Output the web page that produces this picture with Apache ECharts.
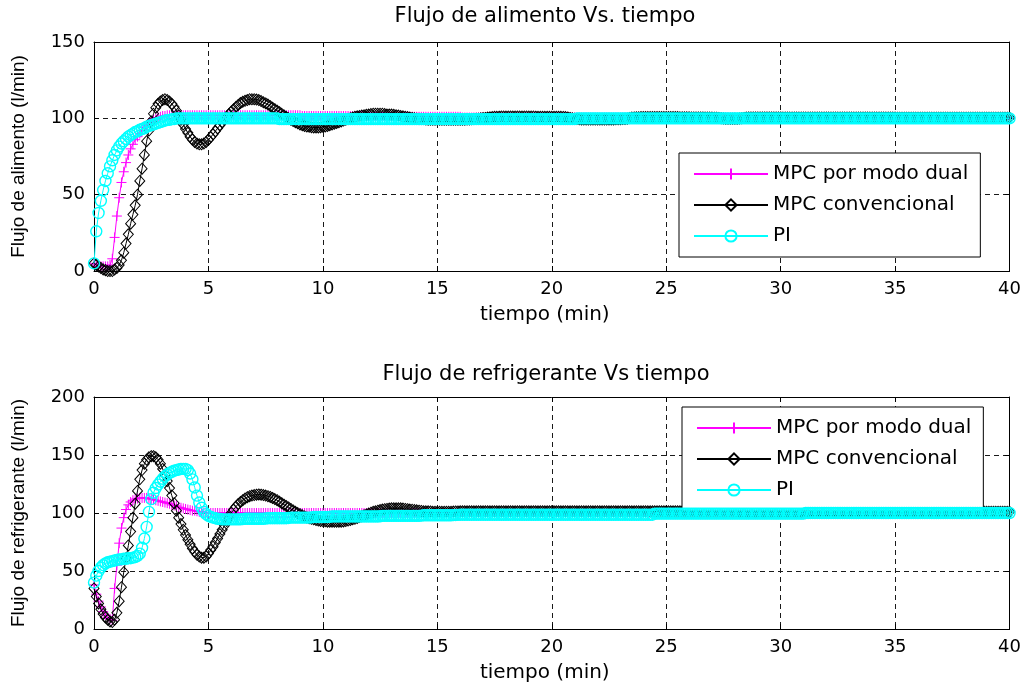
<!DOCTYPE html>
<html>
<head>
<meta charset="utf-8">
<script src="https://cdn.jsdelivr.net/npm/echarts@6/dist/echarts.min.js"></script>
<style>html,body{margin:0;padding:0;background:#fff;}#c{width:1024px;height:685px;}</style>
</head>
<body>
<div id="c"></div>
<script>
// sample period (min); first value is t=0, then one row of 10 samples per minute
const dt = 0.1;
const xTicks = [0, 5, 10, 15, 20, 25, 30, 35, 40];
const seriesNames = ['MPC por modo dual', 'MPC convencional', 'PI'];

// ---- Flujo de alimento (l/min) ----
const alimDual = [5,
4,3,3,3,3,3,4,8,22,36,
48,58,65,71,76,80,83,86,88,90,
92,94,95.5,97,98,99,100,100.5,101,101.5,
101.5,102,102,102,102,102,102,102,102,102,
102,102,102,102,102,102,102,102,102,102,
102,102,102,102,102,102,102,102,102,102,
102,102,102,102,102,102,102,102,102,102,
102,102,102,102,102,102,102,102,102,102,
102,102,102,102,102,102,102,102,102,102,
101.5,101.5,101.5,101.5,101.5,101.5,101.5,101.5,101.5,101.5,
101.5,101.5,101.5,101.5,101.5,101.5,101.5,101.5,101.5,101.5,
101.5,101.5,101.5,101.5,101.5,101.5,101.5,101.5,101.5,101.5,
101,101,101,101,101,101,101,101,101,101,
101,101,101,101,101,101,101,101,101,101,
101,101,101,101,101,101,101,101,101,101,
101,101,101,101,101,101,101,101,101,101,
100.5,100.5,100.5,100.5,100.5,100.5,100.5,100.5,100.5,100.5,
100.5,100.5,100.5,100.5,100.5,100.5,100.5,100.5,100.5,100.5,
100.5,100.5,100.5,100.5,100.5,100.5,100.5,100.5,100.5,100.5,
100.5,100.5,100.5,100.5,100.5,100.5,100.5,100.5,100.5,100.5,
100.5,100.5,100.5,100.5,100.5,100.5,100.5,100.5,100.5,100.5,
100.5,100.5,100.5,100.5,100.5,100.5,100.5,100.5,100.5,100.5,
100.5,100.5,100.5,100.5,100.5,100.5,100.5,100.5,100.5,100.5,
100.5,100.5,100.5,100.5,100.5,100.5,100.5,100.5,100.5,100.5,
100.5,100.5,100.5,100.5,100.5,100.5,100.5,100.5,100.5,100.5,
100.5,100.5,100.5,100.5,100.5,100.5,100.5,100.5,100.5,100.5,
100.5,100.5,100.5,100.5,100.5,100.5,100.5,100.5,100.5,100.5,
100.5,100.5,100.5,100.5,100.5,100.5,100.5,100.5,100.5,100.5,
100.2,100.2,100.2,100.2,100.2,100.2,100.2,100.2,100.2,100.2,
100.2,100.2,100.2,100.2,100.2,100.2,100.2,100.2,100.2,100.2,
100.2,100.2,100.2,100.2,100.2,100.2,100.2,100.2,100.2,100.2,
100.2,100.2,100.2,100.2,100.2,100.2,100.2,100.2,100.2,100.2,
100.2,100.2,100.2,100.2,100.2,100.2,100.2,100.2,100.2,100.2,
100.2,100.2,100.2,100.2,100.2,100.2,100.2,100.2,100.2,100.2,
100.2,100.2,100.2,100.2,100.2,100.2,100.2,100.2,100.2,100.2,
100.2,100.2,100.2,100.2,100.2,100.2,100.2,100.2,100.2,100.2,
100.2,100.2,100.2,100.2,100.2,100.2,100.2,100.2,100.2,100.2,
100.2,100.2,100.2,100.2,100.2,100.2,100.2,100.2,100.2,100.2,
100.2,100.2,100.2,100.2,100.2,100.2,100.2,100.2,100.2,100.2,
100.2,100.2,100.2,100.2,100.2,100.2,100.2,100.2,100.2,100.2
];
const alimConv = [5,
4,3,2,1,0.5,0,0,0,1,2,
4,7,12,18,24,31,37,43,50,59,
67,76,85,92,98,103,107,109.5,111,112,
112.5,112,111,109.5,107.5,105,102,99,96,93,
90.5,88,86,84.5,83.5,83,83,83.5,84.5,86,
87.7,89.5,91.5,93.5,95.5,97.5,99.3,101,102.8,104.5,
106,107.5,108.8,110,110.8,111.5,112,112.5,112.5,112.5,
112.3,112,111.3,110.5,109.8,109,108,107,106,105,
104,103,102,101,100,99,98.2,97.5,96.7,96,
95.5,95,94.7,94.5,94.2,94,94,94,94.2,94.5,
94.7,95,95.5,96,96.5,97,97.5,98,98.5,99,
99.5,100,100.5,101,101.3,101.5,101.8,102,102.3,102.5,
102.8,103,103,103,103,103,102.8,102.5,102.5,102.5,
102.3,102,101.8,101.5,101.3,101,100.8,100.5,100.3,100,
99.8,99.5,99.5,99.5,99.3,99,99,99,99,99,
99,99,99,99,99,99,99,99,99,99,
99.1,99.1,99.2,99.3,99.4,99.5,99.7,99.8,100,100.2,
100.3,100.5,100.7,100.8,101,101,101.1,101.2,101.2,101.2,
101.2,101.2,101.2,101.2,101.2,101.2,101.2,101.2,101.2,101.2,
101.2,101.2,101.1,101,101,101,101,101,101,101,
101,101,101,101,100.9,100.8,100.6,100.3,100,99.7,
99.5,99.4,99.3,99.2,99.2,99.2,99.2,99.2,99.2,99.2,
99.2,99.2,99.2,99.2,99.3,99.3,99.3,99.4,99.4,99.4,
99.5,99.6,99.8,100.2,100.5,100.6,100.7,100.7,100.8,100.8,
100.8,100.8,100.8,100.8,100.8,100.8,100.8,100.8,100.8,100.8,
100.8,100.8,100.8,100.8,100.8,100.7,100.7,100.7,100.7,100.7,
100.6,100.6,100.6,100.6,100.6,100.6,100.5,100.5,100.5,100.5,
100.4,100.4,100.3,100.1,99.9,99.8,99.7,99.7,99.7,99.8,
99.8,99.9,100.1,100.3,100.5,100.6,100.6,100.6,100.6,100.6,
100.6,100.6,100.6,100.6,100.6,100.6,100.6,100.6,100.6,100.6,
100.5,100.5,100.5,100.5,100.5,100.5,100.5,100.5,100.5,100.5,
100.5,100.5,100.5,100.5,100.5,100.5,100.5,100.5,100.5,100.5,
100.5,100.5,100.5,100.5,100.5,100.5,100.5,100.5,100.5,100.5,
100.5,100.5,100.5,100.5,100.5,100.5,100.5,100.5,100.5,100.5,
100.5,100.5,100.5,100.5,100.5,100.5,100.5,100.5,100.5,100.5,
100.4,100.4,100.4,100.4,100.4,100.4,100.4,100.4,100.4,100.4,
100.4,100.4,100.4,100.4,100.4,100.4,100.4,100.4,100.4,100.4,
100.4,100.4,100.4,100.4,100.4,100.4,100.4,100.4,100.4,100.4,
100.4,100.4,100.4,100.4,100.4,100.4,100.4,100.4,100.4,100.4,
100.4,100.4,100.4,100.4,100.4,100.4,100.4,100.4,100.4,100.4
];
const alimPI = [5,
26,38,46,53,59,64,68.5,72.5,76,79,
81.5,83.5,85,86.5,88,89,90,91,91.5,92.5,
93,93.5,94.5,95,95.5,96,96.5,97,97.5,98,
98.5,99,99,99.5,99.5,100,100,100,100,100,
100,100,100,100,100,100,100,100,100,100,
100,100,100,100,100,100,100,100,100,100,
100,100,100,100,100,100,100,100,100,100,
100,100,100,100,100,100,100,100,100,100,
99.5,99.5,99.5,99.5,99.5,99.5,99.5,99.5,99.5,99.5,
99.5,99.5,99.5,99.5,99.5,99.5,99.5,99.5,99.5,99.5,
99.5,99.5,99.5,99.5,99.5,99.5,99.5,99.5,99.5,99.5,
99.5,99.5,99.5,99.5,99.5,99.5,99.5,99.5,99.5,99.5,
99.5,99.5,99.5,99.5,99.5,99.5,99.5,99.5,99.5,99.5,
99.5,99.5,99.5,99.5,99.5,99.5,99.5,99.5,99.5,99.5,
99.5,99.5,99.5,99.5,99.5,99.5,99.5,99.5,99.5,99.5,
99.5,99.5,99.5,99.5,99.5,99.5,99.5,99.5,99.5,99.5,
99.5,99.5,99.5,99.5,99.5,99.5,99.5,99.5,99.5,99.5,
99.5,99.5,99.5,99.5,99.5,99.5,99.5,99.5,99.5,99.5,
99.5,99.5,99.5,99.5,99.5,99.5,99.5,99.5,99.5,99.5,
99.5,99.5,99.5,99.5,99.5,99.5,99.5,99.5,99.5,99.5,
99.5,99.5,99.5,99.5,99.5,99.5,99.5,99.5,99.5,99.5,
100,100,100,100,100,100,100,100,100,100,
100,100,100,100,100,100,100,100,100,100,
100,100,100,100,100,100,100,100,100,100,
100,100,100,100,100,100,100,100,100,100,
100,100,100,100,100,100,100,100,100,100,
100,100,100,100,100,100,100,100,100,100,
100,100,100,100,100,100,100,100,100,100,
100,100,100,100,100,100,100,100,100,100,
100,100,100,100,100,100,100,100,100,100,
100,100,100,100,100,100,100,100,100,100,
100,100,100,100,100,100,100,100,100,100,
100,100,100,100,100,100,100,100,100,100,
100,100,100,100,100,100,100,100,100,100,
100,100,100,100,100,100,100,100,100,100,
100,100,100,100,100,100,100,100,100,100,
100,100,100,100,100,100,100,100,100,100,
100,100,100,100,100,100,100,100,100,100,
100,100,100,100,100,100,100,100,100,100,
100,100,100,100,100,100,100,100,100,100
];

// ---- Flujo de refrigerante (l/min) ----
const refDual = [38,
30,24,19,15,12,10,8.5,7.5,35,55,
74,87,96,103,107,109.5,111,112,112.5,113,
113,113,113,112.5,112,111.5,111,110.5,110,109.5,
109,108.5,108,107,106.5,106,105,104.5,104,103.5,
103,102.5,102,102,101.5,101,101,100.5,100.5,100,
100,100,100,100,100,100,100,100,100,100,
100,100,100,100,100,100,100,100,100,100,
100,100,100,100,100,100,100,100,100,100,
100,100,100,100,100,100,100,100,100,100,
100,100,100,100,100,100,100,100,100,100,
100,100,100,100,100,100,100,100,100,100,
100,100,100,100,100,100,100,100,100,100,
100,100,100,100,100,100,100,100,100,100,
100,100,100,100,100,100,100,100,100,100,
100,100,100,100,100,100,100,100,100,100,
100,100,100,100,100,100,100,100,100,100,
100,100,100,100,100,100,100,100,100,100,
100,100,100,100,100,100,100,100,100,100,
100,100,100,100,100,100,100,100,100,100,
100,100,100,100,100,100,100,100,100,100,
100,100,100,100,100,100,100,100,100,100,
100,100,100,100,100,100,100,100,100,100,
100,100,100,100,100,100,100,100,100,100,
100,100,100,100,100,100,100,100,100,100,
100,100,100,100,100,100,100,100,100,100,
100,100,100,100,100,100,100,100,100,100,
100,100,100,100,100,100,100,100,100,100,
100,100,100,100,100,100,100,100,100,100,
100,100,100,100,100,100,100,100,100,100,
100,100,100,100,100,100,100,100,100,100,
100,100,100,100,100,100,100,100,100,100,
100,100,100,100,100,100,100,100,100,100,
100,100,100,100,100,100,100,100,100,100,
100,100,100,100,100,100,100,100,100,100,
100,100,100,100,100,100,100,100,100,100,
100,100,100,100,100,100,100,100,100,100,
100,100,100,100,100,100,100,100,100,100,
100,100,100,100,100,100,100,100,100,100,
100,100,100,100,100,100,100,100,100,100
];
const refConv = [35,
28,22,17,13,10,8,6.5,6,8,14,
24,36,49,61,72,84,96,108,119,129,
137,142.5,146,148,149,149,148,146,142.5,138,
133,127.5,121.5,115,108.5,102,96,90.5,85.5,81,
77,73,69.5,66.5,64,62.5,61.5,61.5,62.5,65,
68,71,74.5,78,81.8,85.5,89.2,93,96.5,100,
103,105.5,107.7,109.5,111,112.5,113.6,114.5,115,115.5,
115.8,116,115.8,115.5,115,114.5,113.8,113,112,111,
109.8,108.5,107.2,106,104.8,103.5,102.2,101,100,99,
98,97,96.2,95.5,95,94.5,94,93.5,93.2,93,
92.8,92.5,92.5,92.5,92.5,92.5,92.5,92.5,92.7,93,
93.5,94,94.5,95,95.7,96.5,97.2,98,98.8,99.5,
100.3,101,101.5,102,102.5,103,103.3,103.5,103.8,104,
104,104,104,104,103.8,103.5,103.3,103,102.8,102.5,
102.3,102,101.8,101.5,101.5,101.5,101.3,101,101,101,
101,101,101,101,101,101,101.2,101.3,101.4,101.5,
101.5,101.5,101.5,101.5,101.5,101.5,101.5,101.5,101.5,101.5,
101.5,101.5,101.5,101.5,101.5,101.5,101.5,101.5,101.5,101.5,
101.5,101.5,101.5,101.5,101.5,101.5,101.5,101.5,101.5,101.5,
101.5,101.5,101.5,101.5,101.5,101.5,101.5,101.5,101.5,101.5,
101.5,101.5,101.5,101.5,101.5,101.5,101.5,101.5,101.5,101.5,
101.5,101.5,101.5,101.5,101.5,101.5,101.5,101.5,101.5,101.5,
101.5,101.5,101.5,101.5,101.5,101.5,101.5,101.5,101.5,101.5,
101.5,101.5,101.5,101.5,101.5,101.5,101.5,101.5,101.5,101.5,
101.5,101.5,101.5,101.5,101.5,101.5,101.5,101.5,101.5,101.5,
101.5,101.5,101.5,101.5,101.5,101.5,101.5,101.5,101.5,101.5,
101.5,101.5,101.5,101.5,101.5,101.5,101.5,101.5,101.5,101.5,
101.5,101.5,101.5,101.5,101.5,101.5,101.5,101.5,101.5,101.5,
101.2,101.2,101.2,101.2,101.2,101.2,101.2,101.2,101.2,101.2,
101.2,101.2,101.2,101.2,101.2,101.2,101.2,101.2,101.2,101.2,
101.2,101.2,101.2,101.2,101.2,101.2,101.2,101.2,101.2,101.2,
101.2,101.2,101.2,101.2,101.2,101.2,101.2,101.2,101.2,101.2,
101.2,101.2,101.2,101.2,101.2,101.2,101.2,101.2,101.2,101.2,
101.2,101.2,101.2,101.2,101.2,101.2,101.2,101.2,101.2,101.2,
101,101,101,101,101,101,101,101,101,101,
101,101,101,101,101,101,101,101,101,101,
101,101,101,101,101,101,101,101,101,101,
101,101,101,101,101,101,101,101,101,101,
101,101,101,101,101,101,101,101,101,101,
101,101,101,101,101,101,101,101,101,101
];
const refPI = [40,
46,50,53,55,56.5,57.5,58,58.5,59,59.5,
60,60,60.5,60.5,61,61,61.5,62,63,65,
70,78,88,101,112,117.5,121.5,124.5,127,129.5,
131.5,133,134.5,135.5,136.5,137,137.5,138,138,138,
137,134,129,122,115,109,104.5,101,99,97.5,
96.7,96,95.5,95,94.8,94.5,94.5,94.5,94.5,94.5,
94.5,94.5,94.5,94.5,94.7,95,95,95,95,95,
95,95,95,95,95.2,95.5,95.5,95.5,95.5,95.5,
95.5,95.5,95.5,95.5,95.7,96,96,96,96,96,
96,96,96,96,96.2,96.5,96.5,96.5,96.5,96.5,
96.5,96.5,96.7,97,97,97,97,97,97,97,
97,97,97,97,97,97,97,97,97,97,
97,97,97,97,97.2,97.5,97.5,97.5,97.5,97.5,
97.5,97.5,97.5,97.5,97.5,97.5,97.5,97.5,97.5,97.5,
97.5,97.5,97.7,98,98,98,98,98,98,98,
98,98,98,98,98,98,98.2,98.3,98.4,98.5,
98.5,98.5,98.5,98.5,98.5,98.5,98.5,98.5,98.5,98.5,
98.5,98.5,98.5,98.5,98.5,98.5,98.5,98.5,98.5,98.5,
98.5,98.5,98.5,98.5,98.5,98.5,98.5,98.5,98.5,98.5,
98.5,98.5,98.5,98.5,98.5,98.5,98.5,98.5,98.5,98.5,
98.5,98.5,98.5,98.5,98.5,98.5,98.5,98.5,98.5,98.5,
98.5,98.5,98.5,98.5,98.5,98.5,98.5,98.5,98.5,98.5,
98.5,98.5,98.5,98.5,98.5,98.5,98.5,98.5,98.5,98.5,
98.5,98.5,98.5,98.5,98.5,98.5,98.5,98.5,98.5,98.5,
98.5,98.5,98.5,98.5,99.5,99.5,99.5,99.5,99.5,99.5,
99.5,99.5,99.5,99.5,99.5,99.5,99.5,99.5,99.5,99.5,
99.5,99.5,99.5,99.5,99.5,99.5,99.5,99.5,99.5,99.5,
99.5,99.5,99.5,99.5,99.5,99.5,99.5,99.5,99.5,99.5,
99.5,99.5,99.5,99.5,99.5,99.5,99.5,99.5,99.5,99.5,
99.5,99.5,99.5,99.5,99.5,99.5,99.5,99.5,99.5,99.5,
99.5,99.5,99.5,99.5,99.5,99.5,99.5,99.5,99.5,99.5,
100,100,100,100,100,100,100,100,100,100,
100,100,100,100,100,100,100,100,100,100,
100,100,100,100,100,100,100,100,100,100,
100,100,100,100,100,100,100,100,100,100,
100,100,100,100,100,100,100,100,100,100,
100,100,100,100,100,100,100,100,100,100,
100,100,100,100,100,100,100,100,100,100,
100,100,100,100,100,100,100,100,100,100,
100,100,100,100,100,100,100,100,100,100
];

[alimDual, alimConv, alimPI, refDual, refConv, refPI].forEach((arr, i) => {
  if (arr.length !== 401) console.warn('length mismatch', i, arr.length);
});
const pairs = arr => arr.map((v, i) => [+(i * dt).toFixed(2), v]);

const HF = 'DejaVu Sans';
const VF = 'Liberation Sans';
const black = '#000';
const dash = {color: '#1a1a1a', type: [5, 4], width: 1};

function xAx(gi, pos) {
  const main = pos === 'bottom';
  return {
    type: 'value', gridIndex: gi, position: pos, min: 0, max: 40, interval: 5,
    axisLine: {show: true, onZero: false, lineStyle: {color: black, width: 1}},
    axisTick: {show: true, inside: true, length: 5, lineStyle: {color: black}},
    axisLabel: {show: main, color: black, fontFamily: HF, fontSize: 18, margin: 9,
      formatter: v => xTicks.includes(v) ? String(v) : ''},
    splitLine: {show: main, lineStyle: dash},
    name: main ? 'tiempo (min)' : '', nameLocation: 'middle', nameGap: 34,
    nameTextStyle: {color: black, fontFamily: HF, fontSize: 20, padding: [0, 14, 0, 0]}
  };
}
function yAx(gi, pos, max, name) {
  const main = pos === 'left';
  return {
    type: 'value', gridIndex: gi, position: pos, min: 0, max: max, interval: 50,
    axisLine: {show: true, onZero: false, lineStyle: {color: black, width: 1}},
    axisTick: {show: true, inside: true, length: 5, lineStyle: {color: black}},
    axisLabel: {show: main, color: black, fontFamily: HF, fontSize: 18, margin: 9},
    splitLine: {show: main, lineStyle: dash},
    name: main ? name : '', nameLocation: 'middle', nameGap: 66, nameRotate: 90,
    nameTextStyle: {color: black, fontFamily: VF, fontSize: 19}
  };
}
const crossPath = 'path://M5,0L5,10M0,5L10,5';
function mk(name, data, xi, yi, kind) {
  const col = kind === 0 ? '#ff00ff' : kind === 1 ? '#000000' : '#00ffff';
  const sym = kind === 0 ? crossPath : kind === 1 ? 'diamond' : 'circle';
  const size = kind === 0 ? 10 : kind === 1 ? [10, 11] : 11;
  const bw = kind === 2 ? 1.4 : 1;
  return {
    type: 'line', name: name, xAxisIndex: xi, yAxisIndex: yi, data: pairs(data),
    symbol: sym, symbolSize: size, showAllSymbol: true, smooth: false,
    lineStyle: {color: col, width: 1},
    itemStyle: {color: 'rgba(0,0,0,0)', borderColor: col, borderWidth: bw},
    emphasis: {disabled: true}, z: 2 + kind
  };
}
function legend(left, top) {
  return {
    orient: 'vertical', left: left, top: top, data: seriesNames,
    itemWidth: 74, itemHeight: 14, itemGap: 11, padding: [11, 12, 11, 14],
    backgroundColor: '#fff', borderColor: '#000', borderWidth: 1, borderRadius: 0,
    textStyle: {color: black, fontFamily: HF, fontSize: 20}, selectedMode: false
  };
}

const chart = echarts.init(document.getElementById('c'), null, {renderer: 'canvas'});
chart.setOption({
  animation: false,
  backgroundColor: '#fff',
  grid: [
    {left: 94, top: 42, width: 918, height: 229, show: false},
    {left: 94, top: 397, width: 918, height: 232, show: false}
  ],
  xAxis: [xAx(0, 'bottom'), xAx(0, 'top'), xAx(1, 'bottom'), xAx(1, 'top')],
  yAxis: [yAx(0, 'left', 150, 'Flujo de alimento (l/min)'), yAx(0, 'right', 150, ''),
          yAx(1, 'left', 200, 'Flujo de refrigerante (l/min)'), yAx(1, 'right', 200, '')],
  legend: [legend(679, 153), legend(682, 407)],
  graphic: [
    {type: 'text', x: 545, y: 17, style: {text: 'Flujo de alimento Vs. tiempo', fill: black,
      font: '21px "DejaVu Sans"', textAlign: 'center', textVerticalAlign: 'middle'}},
    {type: 'text', x: 546, y: 375, style: {text: 'Flujo de refrigerante Vs tiempo', fill: black,
      font: '21px "DejaVu Sans"', textAlign: 'center', textVerticalAlign: 'middle'}}
  ],
  series: [
    mk(seriesNames[0], alimDual, 0, 0, 0),
    mk(seriesNames[1], alimConv, 0, 0, 1),
    mk(seriesNames[2], alimPI, 0, 0, 2),
    mk(seriesNames[0], refDual, 2, 2, 0),
    mk(seriesNames[1], refConv, 2, 2, 1),
    mk(seriesNames[2], refPI, 2, 2, 2)
  ]
});
</script>
</body>
</html>
